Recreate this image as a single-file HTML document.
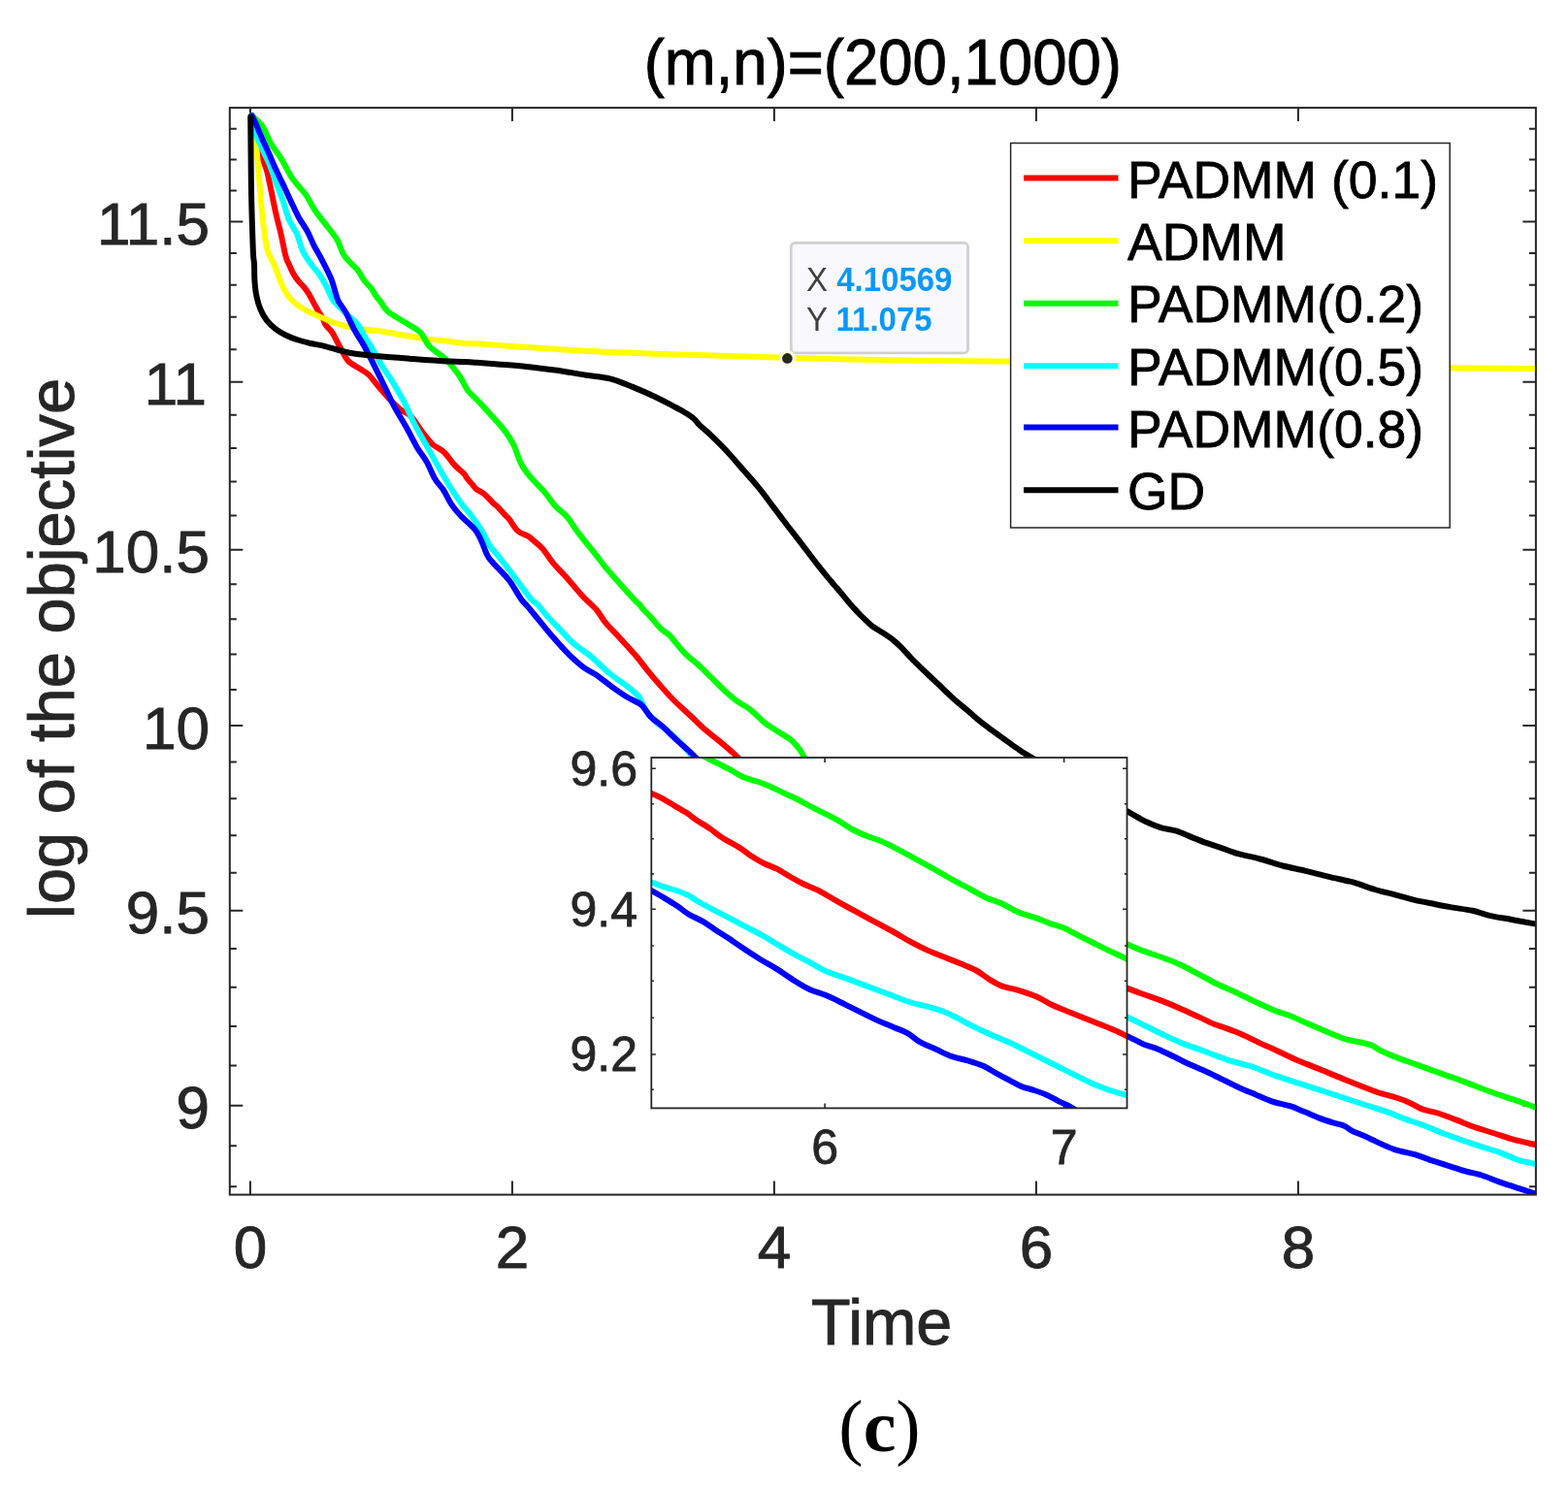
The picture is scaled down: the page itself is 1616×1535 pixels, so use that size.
<!DOCTYPE html><html><head><meta charset="utf-8"><title>(m,n)=(200,1000)</title><style>html,body{margin:0;padding:0;background:#fff;overflow:hidden}svg{display:block}</style></head><body>
<svg width="1616" height="1535" viewBox="0 0 1616 1535" font-family="'Liberation Sans', Arial, Helvetica, sans-serif">
<rect x="0" y="0" width="1616" height="1535" fill="#fff"/>
<defs><clipPath id="cp"><rect x="236.8" y="111.1" width="1346.1000000000001" height="1120.5"/></clipPath></defs>
<path d="M257.9,1231.6V1217.6M257.9,111.1V125.1M527.9,1231.6V1217.6M527.9,111.1V125.1M797.9,1231.6V1217.6M797.9,111.1V125.1M1067.9,1231.6V1217.6M1067.9,111.1V125.1M1337.9,1231.6V1217.6M1337.9,111.1V125.1M236.8,1223.3H243.8M1582.9,1223.3H1575.9M236.8,1181.3H243.8M1582.9,1181.3H1575.9M236.8,1139.7H250.3M1582.9,1139.7H1569.4M236.8,1098.6H243.8M1582.9,1098.6H1575.9M236.8,1058.0H243.8M1582.9,1058.0H1575.9M236.8,1017.8H243.8M1582.9,1017.8H1575.9M236.8,978.1H243.8M1582.9,978.1H1575.9M236.8,938.7H250.3M1582.9,938.7H1569.4M236.8,899.8H243.8M1582.9,899.8H1575.9M236.8,861.3H243.8M1582.9,861.3H1575.9M236.8,823.2H243.8M1582.9,823.2H1575.9M236.8,785.4H243.8M1582.9,785.4H1575.9M236.8,748.1H250.3M1582.9,748.1H1569.4M236.8,711.1H243.8M1582.9,711.1H1575.9M236.8,674.5H243.8M1582.9,674.5H1575.9M236.8,638.2H243.8M1582.9,638.2H1575.9M236.8,602.3H243.8M1582.9,602.3H1575.9M236.8,566.7H250.3M1582.9,566.7H1569.4M236.8,531.5H243.8M1582.9,531.5H1575.9M236.8,496.6H243.8M1582.9,496.6H1575.9M236.8,462.0H243.8M1582.9,462.0H1575.9M236.8,427.7H243.8M1582.9,427.7H1575.9M236.8,393.8H250.3M1582.9,393.8H1569.4M236.8,360.2H243.8M1582.9,360.2H1575.9M236.8,326.8H243.8M1582.9,326.8H1575.9M236.8,293.8H243.8M1582.9,293.8H1575.9M236.8,261.0H243.8M1582.9,261.0H1575.9M236.8,228.6H250.3M1582.9,228.6H1569.4M236.8,196.4H243.8M1582.9,196.4H1575.9M236.8,164.5H243.8M1582.9,164.5H1575.9M236.8,132.8H243.8M1582.9,132.8H1575.9" stroke="#262626" stroke-width="2" fill="none"/>
<g clip-path="url(#cp)" fill="none" stroke-width="6" stroke-linejoin="round" stroke-linecap="round">
<path d="M259.5,119.1C260.2,122.9 262.1,135.1 263.8,142.1C265.5,149.1 267.9,155.7 269.8,161.3C271.7,166.9 273.4,170.3 275.0,176.0C276.6,181.7 277.7,188.2 279.3,195.5C280.8,202.8 282.6,212.3 284.3,219.9C286.0,227.5 287.8,233.8 289.5,241.1C291.2,248.4 293.0,258.5 294.3,263.6C295.6,268.6 295.8,268.1 297.2,271.2C298.5,274.3 300.7,279.2 302.4,282.2C304.1,285.3 305.5,287.2 307.4,289.5C309.2,291.9 311.6,293.8 313.4,296.1C315.2,298.3 316.6,300.3 318.3,303.0C319.9,305.7 321.7,309.2 323.3,312.2C325.0,315.1 326.5,318.0 328.0,320.7C329.6,323.4 331.5,326.1 332.8,328.5C334.0,330.9 334.1,332.8 335.7,335.1C337.3,337.5 339.9,339.1 342.3,342.7C344.7,346.4 347.3,352.4 350.1,357.2C352.8,362.1 355.1,368.0 358.7,371.9C362.2,375.7 367.6,377.8 371.2,380.3C374.8,382.7 376.9,383.4 380.2,386.5C383.4,389.7 387.1,395.0 390.7,399.2C394.3,403.4 398.0,407.9 401.7,411.8C405.3,415.6 409.0,419.2 412.6,422.1C416.2,425.0 419.9,425.4 423.5,429.1C427.2,432.9 430.8,439.6 434.5,444.4C438.2,449.2 441.8,454.2 445.6,457.9C449.5,461.5 453.9,462.6 457.7,466.3C461.6,469.9 465.4,476.2 468.9,479.9C472.4,483.6 476.6,486.6 478.6,488.7C480.6,490.8 479.4,490.6 480.9,492.5C482.3,494.4 485.4,497.8 487.1,499.8C488.8,501.8 488.8,502.7 490.8,504.2C492.8,505.8 496.1,506.8 499.0,509.2C501.9,511.6 506.1,516.5 508.3,518.6C510.5,520.8 510.3,520.0 512.4,522.1C514.5,524.2 518.8,529.0 520.8,531.1C522.9,533.3 522.6,532.4 524.7,535.1C526.8,537.7 530.2,544.2 533.4,547.1C536.6,550.1 541.5,551.1 544.1,552.6C546.6,554.1 546.0,553.9 548.6,556.2C551.2,558.4 556.0,562.1 559.6,566.1C563.1,570.2 565.8,575.4 570.0,580.4C574.1,585.4 579.3,590.2 584.4,596.0C589.5,601.7 595.5,609.3 600.6,614.8C605.7,620.2 610.9,624.2 614.8,628.7C618.7,633.2 620.1,637.2 624.0,641.9C628.0,646.7 633.2,651.5 638.4,657.2C643.7,663.0 650.7,670.5 655.6,676.3C660.5,682.0 663.7,686.7 667.7,691.6C671.6,696.4 674.9,700.3 679.3,705.3C683.7,710.3 688.7,716.1 694.1,721.5C699.5,727.0 706.3,732.8 711.8,738.0C717.3,743.2 722.1,748.2 727.1,752.6C732.1,757.0 737.2,760.5 741.9,764.4C746.7,768.4 752.2,773.2 755.6,776.3C759.0,779.3 761.2,781.7 762.4,782.8 M1157.8,1017.2C1158.7,1017.6 1159.9,1018.1 1163.3,1019.4C1166.7,1020.7 1172.8,1023.0 1178.4,1025.0C1184.1,1027.1 1190.7,1029.1 1197.1,1031.6C1203.5,1034.1 1210.6,1037.1 1217.0,1039.9C1223.5,1042.7 1230.0,1045.8 1235.6,1048.4C1241.2,1051.0 1246.4,1053.8 1250.7,1055.6C1255.0,1057.4 1256.6,1057.5 1261.3,1059.2C1265.9,1060.9 1272.6,1063.2 1278.6,1065.8C1284.5,1068.3 1290.9,1071.7 1297.1,1074.6C1303.3,1077.5 1309.4,1080.0 1315.7,1083.0C1322.0,1085.9 1327.8,1089.0 1335.2,1092.2C1342.6,1095.4 1351.4,1098.6 1360.1,1102.2C1368.8,1105.7 1378.1,1109.8 1387.4,1113.5C1396.7,1117.3 1409.9,1122.4 1416.1,1124.7C1422.2,1127.0 1420.1,1126.2 1424.1,1127.4C1428.2,1128.7 1435.5,1130.4 1440.4,1132.0C1445.2,1133.6 1449.0,1135.0 1453.2,1136.9C1457.4,1138.8 1460.8,1141.6 1465.6,1143.4C1470.4,1145.2 1475.9,1145.7 1481.8,1147.5C1487.6,1149.3 1494.3,1152.0 1500.5,1154.4C1506.7,1156.7 1512.4,1159.3 1519.1,1161.7C1525.7,1164.0 1533.6,1166.3 1540.4,1168.5C1547.3,1170.7 1553.8,1173.1 1560.3,1174.9C1566.8,1176.7 1574.6,1178.2 1579.2,1179.2C1583.9,1180.3 1586.8,1180.8 1588.3,1181.1" stroke="#ff0000"/>
<path d="M259.5,119.1C259.9,120.2 260.8,120.5 261.6,125.8C262.4,131.1 263.2,140.3 264.2,150.7C265.1,161.1 266.3,175.6 267.4,188.2C268.5,200.8 269.4,215.0 270.8,226.4C272.1,237.9 273.6,249.7 275.4,257.0C277.2,264.4 279.6,266.0 281.5,270.4C283.3,274.7 284.7,278.8 286.4,283.0C288.0,287.3 289.7,291.9 291.6,295.7C293.5,299.6 295.2,303.1 297.7,306.2C300.1,309.2 303.0,311.7 306.1,314.1C309.3,316.5 313.3,318.7 316.7,320.6C320.1,322.4 323.4,323.8 326.5,325.2C329.5,326.6 331.9,327.4 335.1,328.8C338.3,330.1 340.3,331.6 345.6,333.2C351.0,334.9 359.9,337.4 367.3,338.7C374.6,340.0 382.9,340.1 389.7,341.0C396.6,341.9 400.3,342.9 408.3,344.2C416.3,345.6 427.9,347.8 437.6,349.1C447.3,350.5 459.3,351.5 466.4,352.4C473.4,353.2 475.0,353.6 479.9,354.0C484.7,354.4 484.7,353.9 495.3,354.6C506.0,355.3 525.5,356.9 543.8,358.1C562.1,359.3 585.1,360.8 605.1,361.9C625.1,362.9 648.3,363.6 663.8,364.3C679.4,364.9 687.8,365.2 698.5,365.5C709.1,365.9 709.3,365.7 727.7,366.3C746.1,366.8 774.1,367.9 808.7,368.8C843.3,369.7 897.5,371.0 935.3,371.6C973.0,372.2 1007.1,372.3 1035.4,372.6C1063.7,372.9 1077.6,373.1 1105.1,373.5C1132.5,373.8 1167.5,374.3 1200.0,374.7C1232.5,375.1 1266.8,375.6 1300.0,376.0C1333.2,376.5 1367.0,377.0 1399.3,377.5C1431.7,378.1 1465.1,378.8 1493.9,379.2C1522.7,379.6 1556.4,379.8 1572.4,380.0C1588.4,380.2 1587.1,380.2 1590.0,380.2" stroke="#ffff00"/>
<path d="M259.5,119.1C260.1,119.7 261.0,120.4 263.0,122.4C264.9,124.4 268.4,126.7 271.1,131.0C273.8,135.3 276.3,142.9 279.4,148.3C282.5,153.7 286.0,157.4 289.7,163.4C293.4,169.4 297.4,178.3 301.6,184.4C305.8,190.6 311.0,194.8 314.9,200.4C318.9,206.0 321.4,212.3 325.2,217.8C328.9,223.3 333.7,228.5 337.4,233.5C341.1,238.4 344.6,242.3 347.5,247.3C350.4,252.3 351.3,258.4 354.8,263.6C358.3,268.8 365.3,274.4 368.7,278.6C372.0,282.7 372.5,285.3 374.9,288.5C377.2,291.7 380.6,294.7 382.7,297.5C384.8,300.3 386.0,302.9 387.6,305.2C389.1,307.4 390.1,308.2 392.1,310.9C394.1,313.5 395.9,317.7 399.6,321.0C403.4,324.4 409.2,327.3 414.8,330.8C420.3,334.4 428.1,337.8 432.7,342.2C437.3,346.5 437.9,352.1 442.4,356.9C446.9,361.6 454.4,365.6 459.6,370.7C464.7,375.7 469.4,381.7 473.2,387.1C477.0,392.5 479.3,398.6 482.3,402.8C485.4,406.9 487.7,407.9 491.4,411.9C495.2,415.8 500.0,421.1 504.8,426.5C509.6,431.8 516.1,438.6 520.2,444.1C524.4,449.5 526.8,453.5 529.6,459.1C532.3,464.7 534.0,472.2 536.8,477.5C539.5,482.8 542.0,486.1 546.1,491.1C550.1,496.0 556.7,502.0 561.1,507.1C565.5,512.3 568.5,517.6 572.3,521.8C576.1,526.0 579.9,527.6 584.0,532.3C588.0,537.0 591.8,543.8 596.5,549.9C601.1,556.1 607.5,563.6 611.9,569.2C616.4,574.8 619.2,578.7 623.1,583.6C627.1,588.4 630.8,592.6 635.8,598.3C640.8,604.0 649.2,613.4 653.2,617.6C657.1,621.8 658.0,622.0 659.5,623.6C661.0,625.3 660.3,625.1 662.3,627.4C664.4,629.7 668.8,634.1 671.9,637.5C675.0,640.9 678.0,645.1 680.9,647.9C683.8,650.7 687.0,652.2 689.2,654.2C691.4,656.2 691.3,656.5 694.2,659.9C697.2,663.2 702.4,670.1 706.7,674.4C711.0,678.7 715.2,681.3 719.8,685.5C724.4,689.7 730.0,695.5 734.3,699.6C738.5,703.7 741.0,706.5 745.2,710.4C749.4,714.2 755.0,719.4 759.7,722.9C764.3,726.3 768.3,727.6 773.0,731.3C777.7,734.9 783.1,741.0 787.8,744.8C792.5,748.5 796.5,750.7 801.1,753.7C805.7,756.8 811.6,759.8 815.4,762.9C819.2,766.1 821.5,769.1 824.0,772.5C826.5,775.9 829.3,781.5 830.4,783.3 M1157.8,971.9C1158.7,972.3 1159.9,972.7 1163.3,974.1C1166.7,975.6 1172.8,978.3 1178.4,980.4C1184.0,982.5 1190.7,984.5 1196.9,986.8C1203.1,989.2 1209.3,991.3 1215.9,994.3C1222.4,997.2 1229.3,1001.2 1236.0,1004.7C1242.7,1008.2 1249.6,1012.1 1256.1,1015.3C1262.6,1018.4 1268.8,1020.7 1275.1,1023.7C1281.4,1026.6 1287.6,1029.9 1294.0,1032.9C1300.5,1035.9 1307.5,1039.2 1313.6,1041.7C1319.6,1044.1 1324.3,1045.1 1330.4,1047.5C1336.5,1050.0 1343.5,1053.4 1350.3,1056.3C1357.1,1059.3 1365.3,1062.8 1371.3,1065.3C1377.2,1067.8 1382.5,1069.9 1386.1,1071.2C1389.7,1072.4 1388.4,1071.6 1392.8,1072.6C1397.2,1073.6 1407.3,1075.4 1412.4,1077.2C1417.5,1079.0 1418.7,1081.1 1423.3,1083.3C1427.9,1085.5 1434.0,1088.1 1440.0,1090.4C1446.0,1092.8 1452.4,1094.8 1459.5,1097.4C1466.5,1099.9 1473.9,1102.6 1482.3,1105.6C1490.8,1108.7 1501.6,1112.4 1510.2,1115.6C1518.8,1118.7 1525.7,1121.7 1533.9,1124.7C1542.1,1127.6 1551.8,1130.8 1559.4,1133.4C1566.9,1136.0 1574.4,1138.7 1579.2,1140.3C1584.1,1142.0 1586.8,1142.7 1588.3,1143.2" stroke="#00ff00"/>
<path d="M259.5,119.1C260.1,121.9 261.1,130.4 262.8,136.1C264.5,141.7 267.5,147.3 270.0,152.8C272.4,158.3 275.2,163.2 277.6,169.1C280.0,175.0 282.1,181.7 284.5,188.2C286.8,194.6 289.6,201.3 291.8,207.7C294.0,214.1 295.5,220.9 297.8,226.4C300.2,232.0 303.6,235.7 306.0,241.1C308.3,246.5 309.7,253.8 312.1,259.0C314.6,264.3 317.9,268.5 320.8,272.5C323.7,276.6 327.0,279.6 329.6,283.5C332.2,287.3 334.2,291.2 336.4,295.4C338.6,299.6 340.7,305.4 342.6,308.6C344.5,311.8 345.2,311.7 348.0,314.6C350.8,317.4 355.6,322.1 359.2,325.6C362.8,329.1 366.9,332.0 369.6,335.5C372.3,339.1 373.2,342.5 375.7,346.7C378.1,350.9 381.4,355.6 384.5,360.7C387.6,365.9 390.6,371.8 394.2,377.8C397.8,383.7 402.3,390.0 406.2,396.3C410.0,402.6 413.6,408.8 417.1,415.5C420.5,422.2 423.6,430.2 426.9,436.6C430.1,443.0 434.2,449.7 436.5,453.9C438.9,458.1 438.7,457.6 441.0,461.7C443.3,465.9 446.9,472.6 450.4,478.8C453.9,484.9 458.1,492.3 462.0,498.7C465.9,505.0 469.9,511.4 473.9,516.9C477.8,522.4 481.9,526.3 485.7,531.5C489.6,536.6 493.8,542.7 497.0,547.8C500.1,552.9 501.9,558.3 504.4,562.2C506.9,566.1 508.4,566.8 512.0,571.3C515.6,575.8 520.3,581.5 526.0,589.0C531.6,596.4 541.4,610.4 546.0,616.1C550.7,621.8 550.9,620.0 554.0,623.2C557.0,626.4 560.5,631.3 564.1,635.3C567.8,639.3 571.2,642.8 575.7,647.4C580.2,652.1 585.5,658.3 591.1,663.3C596.7,668.2 603.3,672.0 609.5,677.1C615.7,682.3 622.1,689.3 628.2,694.3C634.4,699.4 641.3,703.5 646.2,707.4C651.2,711.3 655.6,715.0 658.0,717.6C660.4,720.1 659.2,720.0 660.9,722.9C662.5,725.9 665.0,731.7 667.9,735.5C670.7,739.3 674.5,742.9 678.0,746.0C681.4,749.0 686.2,751.8 688.6,753.8C691.1,755.7 690.1,755.4 692.7,757.8C695.2,760.2 699.8,764.0 703.8,768.2C707.7,772.5 714.2,780.7 716.3,783.3 M1157.8,1046.9C1158.7,1047.3 1159.8,1047.7 1163.3,1049.3C1166.8,1050.9 1172.7,1053.7 1178.8,1056.7C1184.9,1059.7 1192.8,1063.8 1199.8,1067.1C1206.8,1070.4 1213.4,1073.5 1220.7,1076.4C1228.1,1079.4 1236.1,1081.8 1243.8,1084.7C1251.5,1087.5 1259.4,1090.8 1267.2,1093.3C1274.9,1095.8 1282.2,1096.9 1290.2,1099.5C1298.2,1102.2 1306.0,1106.0 1315.1,1109.2C1324.3,1112.4 1336.1,1115.8 1345.3,1118.8C1354.5,1121.7 1362.2,1124.3 1370.4,1127.0C1378.7,1129.7 1386.7,1132.4 1394.7,1135.0C1402.8,1137.7 1412.0,1140.5 1418.6,1142.7C1425.1,1144.8 1428.9,1146.0 1433.8,1147.8C1438.7,1149.7 1442.5,1151.6 1448.0,1153.6C1453.5,1155.6 1459.9,1157.4 1466.9,1160.0C1473.9,1162.6 1481.1,1166.1 1489.7,1169.3C1498.3,1172.5 1509.1,1176.3 1518.5,1179.4C1528.0,1182.6 1538.9,1185.7 1546.4,1188.3C1553.9,1191.0 1557.9,1193.6 1563.5,1195.5C1569.0,1197.3 1575.5,1198.4 1579.6,1199.4C1583.7,1200.3 1586.9,1200.9 1588.3,1201.1" stroke="#00ffff"/>
<path d="M259.5,119.1C260.2,120.6 262.0,124.0 263.8,127.9C265.5,131.9 267.8,137.5 270.1,142.7C272.4,148.0 275.2,153.9 277.6,159.3C280.0,164.8 282.0,169.9 284.5,175.1C286.9,180.4 289.5,185.5 292.1,190.9C294.7,196.4 297.3,202.2 299.9,207.7C302.6,213.3 305.1,219.1 307.9,224.2C310.7,229.2 313.9,233.2 316.5,238.0C319.2,242.9 321.1,248.1 323.7,253.3C326.4,258.5 329.6,263.6 332.5,269.3C335.4,274.9 338.8,281.5 341.2,287.2C343.5,293.0 345.1,299.9 346.4,303.9C347.7,307.8 347.3,307.8 349.0,310.9C350.7,314.0 353.7,317.4 356.5,322.4C359.2,327.4 362.6,335.2 365.7,340.8C368.8,346.5 371.9,350.6 375.1,356.3C378.2,361.9 381.3,368.1 384.7,374.8C388.0,381.5 391.8,389.1 395.4,396.5C399.1,403.9 402.7,412.1 406.5,419.4C410.4,426.7 414.8,433.4 418.7,440.3C422.5,447.2 426.2,454.9 429.7,460.9C433.2,466.9 436.7,470.5 439.8,476.1C442.9,481.6 445.6,489.2 448.5,494.0C451.3,498.8 454.1,500.7 456.9,505.0C459.8,509.4 462.4,515.6 465.4,520.1C468.4,524.5 470.9,527.4 474.9,531.7C478.9,536.0 485.8,541.4 489.3,545.7C492.9,550.0 493.8,552.8 496.1,557.5C498.4,562.3 500.3,569.4 503.3,574.3C506.3,579.1 510.7,582.7 514.3,586.8C517.9,590.8 521.3,593.6 525.1,598.7C528.9,603.8 534.0,613.2 537.0,617.5C540.1,621.9 540.3,621.1 543.5,624.9C546.7,628.7 551.8,634.9 556.3,640.4C560.8,645.8 565.6,651.9 570.6,657.6C575.5,663.3 580.9,669.3 586.0,674.4C591.1,679.4 596.5,684.3 601.3,687.9C606.0,691.5 609.8,692.6 614.6,695.9C619.3,699.1 624.7,703.7 629.8,707.4C634.9,711.1 640.5,715.1 645.3,718.0C650.1,721.0 655.5,723.1 658.5,724.9C661.5,726.7 661.4,726.9 663.1,728.9C664.9,730.9 667.2,734.9 668.9,737.0C670.6,739.1 670.8,739.2 673.3,741.4C675.8,743.5 681.1,747.4 684.0,749.9C686.9,752.4 688.0,754.0 690.5,756.4C693.1,758.9 696.1,761.7 699.3,764.6C702.5,767.5 706.5,770.8 709.8,773.9C713.2,777.0 717.8,781.7 719.4,783.3 M1157.8,1066.5C1158.7,1066.9 1159.9,1067.3 1163.3,1068.9C1166.7,1070.5 1173.0,1074.0 1178.0,1076.2C1183.1,1078.3 1188.5,1079.5 1193.8,1081.7C1199.1,1083.9 1204.1,1086.6 1209.8,1089.3C1215.5,1092.1 1222.1,1095.5 1227.8,1098.1C1233.5,1100.7 1238.5,1102.6 1243.8,1105.0C1249.1,1107.4 1254.2,1110.0 1259.4,1112.6C1264.7,1115.2 1269.8,1117.8 1275.5,1120.4C1281.2,1123.0 1287.7,1125.7 1293.6,1128.2C1299.6,1130.8 1305.3,1133.6 1311.3,1135.6C1317.2,1137.6 1323.9,1138.4 1329.5,1140.2C1335.1,1142.0 1339.8,1144.3 1344.9,1146.3C1349.9,1148.4 1354.8,1150.7 1359.7,1152.6C1364.6,1154.4 1369.9,1156.1 1374.2,1157.5C1378.6,1158.9 1382.8,1159.5 1386.0,1160.9C1389.2,1162.3 1389.8,1164.0 1393.5,1165.9C1397.2,1167.7 1404.4,1170.3 1408.3,1172.0C1412.2,1173.7 1412.0,1174.0 1416.8,1176.1C1421.5,1178.3 1429.9,1182.5 1436.8,1184.8C1443.7,1187.2 1452.0,1188.4 1458.2,1190.2C1464.4,1192.0 1468.7,1194.0 1474.0,1195.8C1479.2,1197.5 1483.7,1198.9 1489.7,1200.8C1495.8,1202.7 1504.0,1205.5 1510.2,1207.3C1516.4,1209.1 1520.3,1209.4 1526.9,1211.5C1533.4,1213.6 1541.0,1217.0 1549.5,1219.9C1558.0,1222.8 1571.3,1227.0 1577.7,1229.1C1584.2,1231.2 1586.6,1231.8 1588.3,1232.3" stroke="#0000ff"/>
<path d="M258.2,120.4C258.3,125.7 258.4,138.3 258.5,152.0C258.7,165.8 258.7,185.1 259.1,202.8C259.5,220.6 260.3,247.1 260.8,258.7C261.3,270.2 261.7,266.9 262.0,272.0C262.3,277.1 262.0,283.6 262.4,289.1C262.8,294.7 263.4,300.5 264.4,305.4C265.4,310.4 266.6,314.6 268.4,318.7C270.1,322.8 272.3,326.8 275.0,330.3C277.6,333.7 281.1,336.8 284.3,339.3C287.6,341.8 290.7,343.6 294.5,345.5C298.3,347.4 302.8,349.1 307.1,350.5C311.4,351.9 315.5,352.8 320.4,354.0C325.2,355.1 329.5,355.6 336.2,357.3C342.9,358.9 351.2,362.0 360.3,363.7C369.4,365.4 380.4,366.3 390.7,367.3C401.0,368.3 411.7,369.0 422.0,369.7C432.3,370.5 443.4,371.4 452.7,371.9C462.0,372.4 471.5,372.7 477.9,373.0C484.4,373.3 485.6,373.4 491.4,373.8C497.2,374.2 504.0,374.7 512.5,375.4C521.0,376.1 532.3,376.8 542.5,377.9C552.8,378.9 563.5,380.3 573.8,381.8C584.1,383.3 595.0,385.3 604.1,386.7C613.2,388.1 620.6,388.3 628.5,390.3C636.5,392.3 644.1,395.7 652.0,398.9C659.8,402.1 668.0,405.7 675.6,409.3C683.1,412.9 692.5,418.0 697.4,420.5C702.2,423.1 701.8,422.7 704.6,424.5C707.5,426.3 712.0,428.9 714.7,431.2C717.4,433.5 718.0,435.4 720.9,438.2C723.7,441.0 727.5,443.7 731.8,447.8C736.1,451.9 741.7,457.3 746.8,462.8C752.0,468.3 756.9,474.0 762.8,480.8C768.7,487.5 776.4,496.0 782.2,503.1C788.0,510.2 792.6,516.8 797.6,523.4C802.6,530.0 807.3,536.3 812.2,542.7C817.2,549.2 822.0,555.3 827.3,562.1C832.5,569.0 838.9,577.6 843.7,583.7C848.5,589.9 851.9,593.7 856.2,598.9C860.5,604.0 866.7,611.1 869.6,614.6C872.6,618.2 872.6,618.4 874.1,620.2C875.6,622.0 876.7,623.3 878.5,625.3C880.4,627.3 882.8,629.9 885.0,632.2C887.1,634.4 889.2,636.5 891.5,638.7C893.8,640.9 896.6,643.6 898.7,645.3C900.9,647.0 902.2,647.6 904.4,649.0C906.6,650.5 909.4,652.1 912.0,653.8C914.6,655.5 917.3,657.2 920.0,659.3C922.7,661.5 925.3,663.9 928.0,666.5C930.7,669.2 933.3,672.3 936.0,675.1C938.7,677.9 941.3,680.8 944.0,683.4C946.7,686.1 949.3,688.6 952.0,691.2C954.7,693.7 957.3,696.2 960.0,698.7C962.7,701.2 965.3,703.6 968.0,706.2C970.7,708.8 973.3,711.5 976.0,714.0C978.7,716.6 981.3,719.2 984.0,721.6C986.7,723.9 989.3,726.0 992.0,728.2C994.7,730.5 997.3,732.7 1000.0,734.9C1002.7,737.2 1005.3,739.6 1008.0,741.8C1010.7,744.0 1013.3,746.1 1016.0,748.2C1018.7,750.3 1021.3,752.2 1024.0,754.2C1026.7,756.1 1029.3,758.0 1032.0,759.9C1034.7,761.8 1037.3,763.7 1040.0,765.6C1042.7,767.5 1043.3,768.3 1048.0,771.3C1052.7,774.4 1051.4,774.2 1067.9,783.7C1084.4,793.1 1130.8,819.0 1146.8,828.0C1162.9,837.0 1158.8,834.6 1164.5,837.8C1170.1,840.9 1175.5,844.4 1180.9,847.0C1186.3,849.6 1191.6,851.7 1196.9,853.3C1202.2,854.9 1207.3,855.1 1212.5,856.7C1217.8,858.4 1223.0,861.0 1228.2,863.1C1233.4,865.2 1238.6,867.4 1243.8,869.2C1249.0,871.1 1254.1,872.5 1259.4,874.3C1264.8,876.2 1269.5,878.3 1276.1,880.2C1282.6,882.0 1290.9,883.4 1298.5,885.5C1306.2,887.5 1314.2,890.5 1322.0,892.5C1329.8,894.6 1337.7,895.9 1345.4,897.8C1353.2,899.6 1361.5,901.9 1368.6,903.6C1375.7,905.3 1383.2,906.9 1387.8,908.0C1392.3,909.0 1391.1,908.3 1396.0,909.8C1400.8,911.3 1409.7,914.8 1416.9,917.0C1424.1,919.2 1432.7,921.0 1439.4,922.8C1446.1,924.5 1450.5,926.0 1457.0,927.6C1463.5,929.1 1472.0,930.7 1478.5,932.0C1485.0,933.4 1489.5,934.2 1496.1,935.4C1502.6,936.5 1511.0,937.4 1517.6,938.8C1524.1,940.2 1528.4,942.2 1535.1,943.8C1541.9,945.3 1550.3,946.6 1557.8,948.0C1565.3,949.4 1575.1,951.2 1580.3,952.1C1585.5,953.1 1587.5,953.5 1588.9,953.8" stroke="#000000"/>
</g>
<rect x="236.8" y="111.1" width="1346.1000000000001" height="1120.5" fill="none" stroke="#262626" stroke-width="2"/>
<g fill="#262626" stroke="#262626" stroke-width="0.9" font-size="62" text-anchor="end">
<text x="216" y="252.1">11.5</text>
<text x="213" y="417.3">11</text>
<text x="216" y="590.2">10.5</text>
<text x="216" y="771.6">10</text>
<text x="216" y="962.2">9.5</text>
<text x="216" y="1163.2">9</text>
</g>
<g fill="#262626" stroke="#262626" stroke-width="0.9" font-size="62" text-anchor="middle">
<text x="257.9" y="1306.5">0</text>
<text x="527.9" y="1306.5">2</text>
<text x="797.9" y="1306.5">4</text>
<text x="1067.9" y="1306.5">6</text>
<text x="1337.9" y="1306.5">8</text>
</g>
<text x="909.8" y="86.9" font-size="63.5" text-anchor="middle" fill="#000" stroke="#000" stroke-width="0.9" transform="matrix(1 0 0 1.06 0 -5.21)">(m,n)=(200,1000)</text>
<text x="908.7" y="1385.5" font-size="66.5" text-anchor="middle" fill="#262626" stroke="#262626" stroke-width="0.9">Time</text>
<text transform="translate(76,668.4) rotate(-90)" x="0" y="0" font-size="66.8" text-anchor="middle" fill="#262626" stroke="#262626" stroke-width="0.9">log of the objective</text>
<rect x="671.3" y="781.0" width="490.20000000000005" height="361.4000000000001" fill="#fff"/>
<defs><clipPath id="cpi"><rect x="671.3" y="781.0" width="490.20000000000005" height="361.4000000000001"/></clipPath></defs>
<path d="M671.3,792.3H675.8M1161.5,792.3H1157.0M671.3,828.8H673.9M1161.5,828.8H1158.9M671.3,864.7H673.9M1161.5,864.7H1158.9M671.3,900.9H673.9M1161.5,900.9H1158.9M671.3,937.2H675.8M1161.5,937.2H1157.0M671.3,975.0H673.9M1161.5,975.0H1158.9M671.3,1011.2H673.9M1161.5,1011.2H1158.9M671.3,1049.3H673.9M1161.5,1049.3H1158.9M671.3,1087.0H675.8M1161.5,1087.0H1157.0M671.3,1123.3H673.9M1161.5,1123.3H1158.9M850.1,1142.4V1137.4M850.1,781.0V786.0M1096.6,1142.4V1137.4M1096.6,781.0V786.0" stroke="#262626" stroke-width="1.6" fill="none"/>
<g clip-path="url(#cpi)" fill="none" stroke-width="6" stroke-linejoin="round" stroke-linecap="round">
<path d="M720.9,777.5C722.4,778.3 726.4,780.3 729.8,782.0C733.2,783.7 737.3,785.7 741.2,787.7C745.1,789.7 749.0,791.6 753.3,793.9C757.6,796.3 762.1,799.5 767.0,801.6C772.0,803.7 778.2,804.8 783.1,806.5C788.1,808.3 792.6,810.3 796.9,812.3C801.2,814.2 804.9,816.2 809.2,818.2C813.4,820.2 818.1,822.1 822.3,824.2C826.5,826.3 830.2,828.6 834.6,830.9C838.9,833.2 843.4,835.3 848.4,837.9C853.3,840.4 859.4,843.4 864.2,846.1C869.1,848.9 872.5,851.9 877.4,854.5C882.3,857.1 887.4,859.3 893.7,861.9C900.0,864.6 904.2,864.9 915.2,870.4C926.2,875.8 948.7,888.3 959.7,894.4C970.7,900.4 974.8,903.2 981.2,906.7C987.6,910.3 992.5,912.6 998.2,915.6C1003.8,918.7 1009.4,922.3 1015.1,924.9C1020.7,927.5 1026.4,928.7 1032.0,931.3C1037.7,933.8 1043.3,937.7 1049.2,940.2C1055.0,942.6 1061.6,944.1 1067.2,946.1C1072.8,948.1 1077.8,950.5 1082.6,952.2C1087.5,954.0 1091.8,954.7 1096.2,956.5C1100.6,958.3 1104.1,960.6 1108.9,963.0C1113.7,965.5 1119.6,968.5 1125.2,971.3C1130.8,974.1 1136.7,977.1 1142.3,979.8C1148.0,982.5 1155.1,985.7 1159.1,987.5C1163.0,989.3 1164.7,990.2 1165.8,990.8" stroke="#00ff00"/>
<path d="M665.0,815.7C666.0,816.0 668.1,816.6 670.9,817.8C673.8,819.0 678.1,820.7 682.1,822.8C686.2,825.0 691.1,828.2 695.5,830.8C699.8,833.4 704.6,835.9 708.2,838.3C711.8,840.7 713.1,842.3 717.1,845.0C721.0,847.7 727.4,851.3 731.9,854.4C736.4,857.5 739.1,860.1 744.2,863.4C749.2,866.6 757.0,870.6 762.2,873.9C767.3,877.2 770.9,880.4 775.1,883.1C779.3,885.8 782.9,887.9 787.2,890.0C791.4,892.1 796.1,893.4 800.5,895.7C804.9,897.9 809.5,901.0 813.8,903.5C818.2,906.0 821.7,908.1 826.5,910.5C831.4,912.9 837.3,914.9 842.8,917.7C848.4,920.5 854.1,924.2 859.8,927.3C865.4,930.5 870.8,933.5 876.7,936.8C882.6,940.0 887.8,942.8 895.1,946.8C902.4,950.8 913.2,956.5 920.5,960.5C927.8,964.6 933.0,967.9 938.9,971.1C944.8,974.3 950.2,977.0 955.8,979.6C961.5,982.1 967.1,984.3 972.8,986.5C978.4,988.8 984.1,991.0 989.7,993.3C995.3,995.6 1001.2,997.8 1006.2,1000.5C1011.2,1003.3 1015.6,1007.2 1020.0,1009.8C1024.4,1012.5 1027.8,1014.8 1032.7,1016.6C1037.6,1018.4 1043.4,1019.0 1049.4,1020.8C1055.4,1022.6 1062.8,1025.0 1068.4,1027.4C1074.1,1029.8 1078.0,1032.9 1083.3,1035.5C1088.5,1038.0 1094.2,1040.1 1099.8,1042.4C1105.4,1044.7 1111.1,1047.0 1116.7,1049.2C1122.4,1051.5 1128.2,1053.8 1133.7,1056.0C1139.2,1058.2 1145.3,1060.6 1149.7,1062.6C1154.2,1064.5 1157.4,1066.2 1160.1,1067.5C1162.8,1068.7 1164.9,1069.5 1165.8,1069.9" stroke="#ff0000"/>
<path d="M665.0,907.1C666.0,907.5 668.1,908.1 670.9,909.2C673.8,910.3 678.1,912.3 682.1,913.7C686.2,915.1 691.1,916.0 695.5,917.5C699.8,918.9 704.6,920.6 708.2,922.4C711.8,924.1 713.0,925.6 717.1,928.0C721.2,930.4 727.3,933.8 732.8,936.6C738.2,939.5 744.0,942.4 749.7,945.3C755.3,948.3 761.0,951.5 766.6,954.4C772.3,957.4 777.9,960.1 783.6,963.2C789.2,966.3 794.9,969.9 800.5,973.2C806.1,976.5 811.8,980.0 817.4,983.1C823.1,986.3 828.7,989.0 834.4,992.0C840.0,995.0 844.9,998.5 851.3,1001.3C857.7,1004.1 861.8,1004.9 872.8,1008.9C883.9,1013.0 906.3,1021.4 917.3,1025.5C928.3,1029.6 932.5,1031.5 938.9,1033.5C945.3,1035.6 950.2,1036.1 955.8,1037.6C961.4,1039.1 967.2,1040.7 972.3,1042.7C977.4,1044.6 981.5,1046.9 986.5,1049.4C991.5,1052.0 996.3,1054.9 1002.4,1057.9C1008.5,1060.9 1016.6,1064.6 1022.9,1067.4C1029.3,1070.2 1034.7,1072.2 1040.5,1074.8C1046.3,1077.4 1051.8,1080.3 1057.4,1083.1C1063.1,1085.9 1068.7,1088.7 1074.4,1091.6C1080.0,1094.4 1085.7,1097.2 1091.3,1100.0C1097.0,1102.9 1102.6,1105.7 1108.3,1108.5C1113.9,1111.3 1119.5,1114.2 1125.2,1116.8C1130.9,1119.3 1136.7,1121.6 1142.3,1123.5C1148.0,1125.5 1155.1,1127.2 1159.1,1128.4C1163.0,1129.6 1164.7,1130.2 1165.8,1130.5" stroke="#00ffff"/>
<path d="M665.0,914.7C666.0,915.2 668.0,916.2 670.9,917.8C673.9,919.4 678.1,921.8 682.6,924.5C687.1,927.2 693.5,931.0 698.0,934.0C702.5,937.0 705.4,939.9 709.7,942.5C714.0,945.1 719.4,947.1 723.9,949.7C728.3,952.2 732.0,955.1 736.3,957.9C740.7,960.8 745.1,963.4 750.1,966.8C755.2,970.2 761.1,974.4 766.6,978.1C772.2,981.9 777.9,985.6 783.6,989.0C789.2,992.5 794.9,995.4 800.5,998.9C806.1,1002.4 811.8,1006.7 817.4,1010.2C823.1,1013.7 828.7,1017.3 834.4,1020.0C840.0,1022.6 845.3,1023.5 851.3,1026.1C857.4,1028.7 862.2,1031.2 870.7,1035.4C879.3,1039.6 894.1,1047.2 902.5,1051.1C911.0,1055.1 916.1,1056.8 921.5,1059.2C927.0,1061.5 930.9,1062.6 935.3,1065.1C939.7,1067.6 943.1,1071.4 948.0,1074.2C952.8,1076.9 958.7,1079.1 964.3,1081.6C969.8,1084.1 975.6,1087.3 981.2,1089.2C986.8,1091.2 992.6,1091.9 997.9,1093.5C1003.3,1095.1 1008.4,1096.6 1013.2,1098.8C1018.0,1100.9 1022.4,1104.1 1027.0,1106.6C1031.5,1109.1 1036.0,1111.4 1040.3,1113.6C1044.6,1115.8 1048.3,1118.2 1052.6,1119.9C1056.8,1121.7 1061.5,1122.4 1065.9,1124.0C1070.4,1125.5 1075.0,1127.1 1079.2,1129.0C1083.5,1130.9 1087.4,1133.4 1091.3,1135.4C1095.3,1137.4 1099.3,1138.9 1103.0,1140.9C1106.6,1142.9 1111.6,1146.4 1113.3,1147.5" stroke="#0000ff"/>
</g>
<rect x="671.3" y="781.0" width="490.20000000000005" height="361.4000000000001" fill="none" stroke="#262626" stroke-width="1.8"/>
<g fill="#262626" stroke="#262626" stroke-width="0.8" font-size="50" text-anchor="end">
<text x="657" y="809.8">9.6</text>
<text x="657" y="954.7">9.4</text>
<text x="657" y="1104.3">9.2</text>
</g>
<g fill="#262626" stroke="#262626" stroke-width="0.8" font-size="50" text-anchor="middle">
<text x="850.1" y="1200">6</text>
<text x="1096.6" y="1200">7</text>
</g>
<rect x="1041.6" y="147.5" width="452.60000000000014" height="396.5" fill="#fff" stroke="#262626" stroke-width="1.5"/>
<line x1="1055" y1="183.5" x2="1152.5" y2="183.5" stroke="#ff0000" stroke-width="6"/>
<text x="1162" y="203.7" font-size="53.5" fill="#000" stroke="#000" stroke-width="0.8">PADMM (0.1)</text>
<line x1="1055" y1="248.3" x2="1152.5" y2="248.3" stroke="#ffff00" stroke-width="6"/>
<text x="1162" y="268.0" font-size="53.5" fill="#000" stroke="#000" stroke-width="0.8">ADMM</text>
<line x1="1055" y1="312.7" x2="1152.5" y2="312.7" stroke="#00ff00" stroke-width="6"/>
<text x="1162" y="332.4" font-size="53.5" fill="#000" stroke="#000" stroke-width="0.8">PADMM(0.2)</text>
<line x1="1055" y1="377.2" x2="1152.5" y2="377.2" stroke="#00ffff" stroke-width="6"/>
<text x="1162" y="396.6" font-size="53.5" fill="#000" stroke="#000" stroke-width="0.8">PADMM(0.5)</text>
<line x1="1055" y1="440.5" x2="1152.5" y2="440.5" stroke="#0000ff" stroke-width="6"/>
<text x="1162" y="460.8" font-size="53.5" fill="#000" stroke="#000" stroke-width="0.8">PADMM(0.8)</text>
<line x1="1055" y1="505.3" x2="1152.5" y2="505.3" stroke="#000000" stroke-width="6"/>
<text x="1162" y="525.1" font-size="53.5" fill="#000" stroke="#000" stroke-width="0.8">GD</text>
<rect x="815.3" y="250.3" width="182.2" height="113.6" rx="4" ry="4" fill="#f9f9fd" stroke="#d0d0d2" stroke-width="2.8"/>
<text x="831" y="300.3" font-size="33" fill="#404040" transform="matrix(1 0 0 1.05 0 -15.02)">X <tspan fill="#0898fb" font-weight="bold">4.10569</tspan></text>
<text x="831" y="340.7" font-size="33" fill="#404040" transform="matrix(1 0 0 1.05 0 -17.04)">Y <tspan fill="#0898fb" font-weight="bold">11.075</tspan></text>
<circle cx="811.4" cy="369.4" r="8.6" fill="#fcfde6" opacity="0.9"/>
<circle cx="811.4" cy="369.4" r="5.3" fill="#262626"/>
<text x="906.5" y="1495.8" font-size="76" text-anchor="middle" fill="#000" font-family="'Liberation Serif', 'Times New Roman', serif">(<tspan font-weight="bold">c</tspan>)</text>
</svg></body></html>
